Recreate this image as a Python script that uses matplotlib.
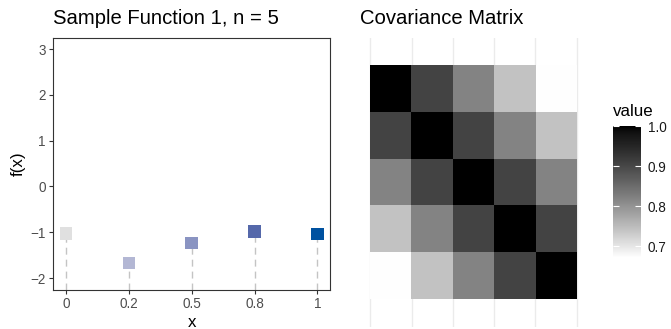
import numpy as np
import matplotlib
matplotlib.use("Agg")
import matplotlib.pyplot as plt
from matplotlib.colors import ListedColormap

plt.rcParams['font.family'] = ['Liberation Sans', 'DejaVu Sans']

# ---- data -------------------------------------------------------------
x_vals = [0.0, 0.25, 0.5, 0.75, 1.0]
x_labels = ["0", "0.2", "0.5", "0.8", "1"]
f_vals = [-1.03, -1.67, -1.24, -0.98, -1.04]
point_colors = ["#E0E0E0", "#B3B7D4", "#8A94C2", "#5568AA", "#0051A0"]

cov = [
    [1.000, 0.905, 0.819, 0.741, 0.670],
    [0.905, 1.000, 0.905, 0.819, 0.741],
    [0.819, 0.905, 1.000, 0.905, 0.819],
    [0.741, 0.819, 0.905, 1.000, 0.905],
    [0.670, 0.741, 0.819, 0.905, 1.000],
]
cbar_ticks = [0.7, 0.8, 0.9, 1.0]
cbar_labels = ["0.7", "0.8", "0.9", "1.0"]

# ---- grey ramp interpolated in CIELAB lightness (white -> black) -------
L = np.linspace(100, 0, 256)
Y = np.where(L > 8, ((L + 16) / 116) ** 3, L / 903.3)
g = np.where(Y <= 0.0031308, 12.92 * Y, 1.055 * Y ** (1 / 2.4) - 0.055)
grey_cmap = ListedColormap(np.clip(np.column_stack([g, g, g]), 0, 1))

W, H = 671, 329
fig = plt.figure(figsize=(W / 100, H / 100), dpi=100)


def px_axes(left, top, right, bottom):
    return fig.add_axes([left / W, 1 - bottom / H, (right - left) / W, (bottom - top) / H])


# ---- left: sample function --------------------------------------------
ax = px_axes(53.3, 37.7, 330, 289.5)
ax.vlines(x_vals, -2.25, f_vals, colors="#C4C4C4", linewidth=1.0,
          linestyles=(0, (5, 3.6)), zorder=1)
ax.scatter(x_vals, f_vals, marker="s", s=80, c=point_colors, linewidths=0, zorder=3)
ax.set_xlim(-0.05, 1.05)
ax.set_ylim(-2.25, 3.25)
ax.set_xticks(x_vals)
ax.set_xticklabels(x_labels)
ax.set_yticks([-2, -1, 0, 1, 2, 3])
ax.set_yticklabels(["\u22122", "\u22121", "0", "1", "2", "3"])
ax.tick_params(colors="#333333", labelcolor="#4D4D4D", labelsize=9.75,
               length=3, width=0.8, pad=2.4)
for sp in ax.spines.values():
    sp.set_color("#333333")
    sp.set_linewidth(0.8)
ax.set_title("Sample Function 1, n = 5", loc="left", fontsize=14.6, pad=9.8)
fig.text(18.3 / W, 1 - 163.5 / H, "f(x)", rotation=90, ha="center", va="center",
         fontsize=12.2)
fig.text(191.7 / W, 1 - 326.7 / H, "x", ha="center", va="baseline", fontsize=12.2)

# ---- right: covariance heatmap ----------------------------------------
ax2 = px_axes(360, 37.7, 587, 326.7)
cov_arr = np.array(cov)
im = ax2.imshow(cov_arr, cmap=grey_cmap, vmin=cov_arr.min(), vmax=cov_arr.max(),
                extent=(0.5, 5.5, 5.5, 0.5), aspect="auto", interpolation="nearest",
                zorder=2)
ax2.set_xlim(0.25, 5.75)
ax2.set_ylim(6.1, -0.1)
ax2.set_xticks(np.arange(0.5, 6.0, 1.0))
ax2.set_yticks([])
ax2.grid(axis="x", color="#EBEBEB", linewidth=1.0, zorder=0)
ax2.tick_params(length=0, labelbottom=False)
for sp in ax2.spines.values():
    sp.set_visible(False)
ax2.set_title("Covariance Matrix", loc="left", fontsize=14.6, pad=9.8)

# colour bar legend
cax = px_axes(613, 126, 641, 258)
cb = fig.colorbar(im, cax=cax)
cb.outline.set_visible(False)
cb.set_ticks(cbar_ticks)
cb.set_ticklabels(cbar_labels)
cax.tick_params(axis="y", direction="in", left=True, right=True, color="white",
                length=4.2, width=0.8, labelsize=9.75, labelcolor="#1A1A1A", pad=5)
fig.text(613 / W, 1 - 116 / H, "value", ha="left", va="baseline", fontsize=12.2)

fig.savefig("out.png", dpi=100, facecolor="white")
